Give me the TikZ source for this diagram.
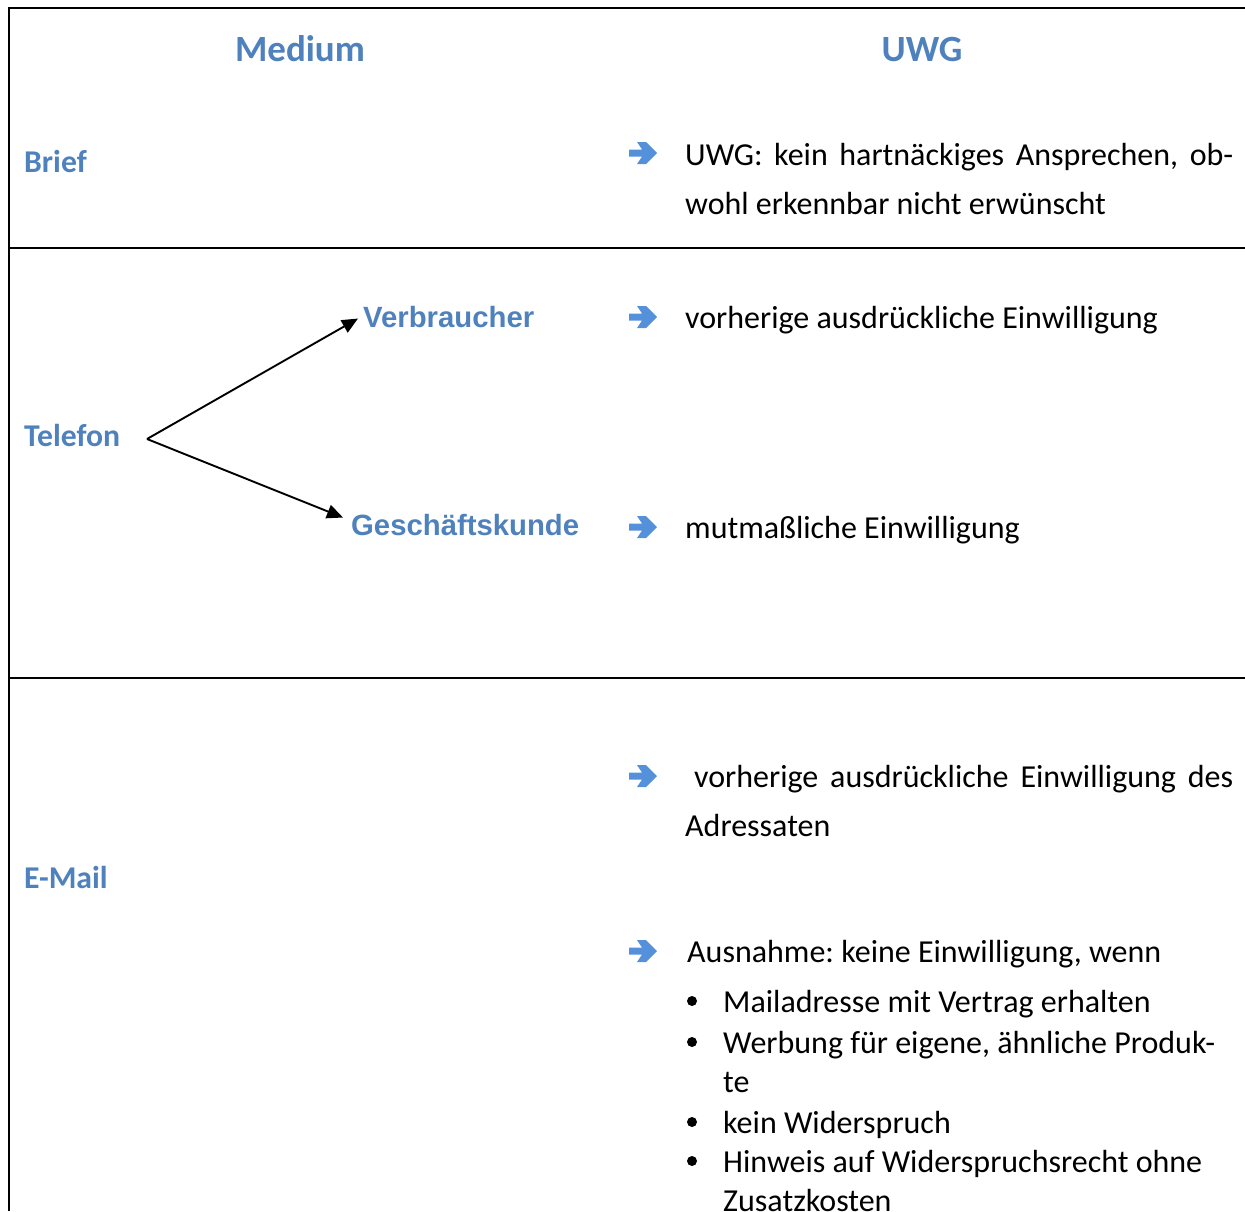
\documentclass[tikz,border=0pt]{standalone}
\usepackage{fontspec}
\setmainfont{Carlito}
\newfontfamily\arialfont{Liberation Sans}
\usepackage{tikz}
\usetikzlibrary{arrows.meta}
\definecolor{headblue}{HTML}{4F81BD}
\definecolor{arrowblue}{HTML}{5590DA}
\frenchspacing

\begin{document}
\begin{tikzpicture}[x=1pt,y=-1pt,
  head_node/.style={font=\fontsize{37}{44}\selectfont\bfseries,text=headblue,inner sep=0pt,anchor=base},
  medium_node/.style={font=\fontsize{31.7}{37}\selectfont\bfseries,text=headblue,inner sep=0pt,anchor=base west},
  kind_node/.style={font=\arialfont\fontsize{29.3}{35}\selectfont\bfseries,text=headblue,inner sep=0pt,anchor=base west},
  text_node/.style={font=\fontsize{32}{49}\selectfont,inner sep=0pt,anchor=base west,align=justify,text width=548pt},
  item_node/.style={font=\fontsize{32}{39}\selectfont,inner sep=0pt,anchor=base west,align=flush left,text width=510pt}]

    \useasboundingbox (0,0) rectangle (1245,1211);

    % table lines
    \draw[line width=2.7pt] (1245,8) -- (9,8) -- (9,1211);
    \draw[line width=2.7pt] (9,248) -- (1245,248);
    \draw[line width=2.7pt] (9,678) -- (1245,678);

    \node[head_node] (medium) at (300,61) {Medium};
    \node[head_node] (uwg) at (922,61) {UWG};

    \node[medium_node] (brief) at (24,172) {Brief};
    \node[medium_node] (telefon) at (24,446) {Telefon};
    \node[medium_node] (email) at (24,888) {E-Mail};

    \node[kind_node] (verbraucher) at (363,327) {Verbraucher};
    \node[kind_node] (geschaeft) at (351,535) {Geschäftskunde};
    \coordinate (fork) at (147,439);
    \begin{scope}[every path/.style={-{Triangle[length=16pt,width=14pt]},line width=1.9pt}]
    \draw (fork) -- ([xshift=-5pt,yshift=-2pt]verbraucher.west);
    \draw (fork) -- ([xshift=-8pt,yshift=7pt]geschaeft.west);
    \end{scope}

    % blue arrows in front of the UWG texts
    \foreach \y in {153,317,527,776,951}
        \fill[arrowblue] (629,\y) ++(0,-3.5) -- ++(13,0) -- ++(-5,-7.5) -- ++(9,0) -- ++(11,11)
            -- ++(-11,11) -- ++(-9,0) -- ++(5,-7.5) -- ++(-13,0) -- cycle;

    \node[text_node] (brieftext) at (685,165) {UWG: kein hartnäckiges Ansprechen, ob-\linebreak wohl erkennbar nicht erwünscht};
    \node[text_node] (verbrauchertext) at (685,328) {vorherige ausdrückliche Einwilligung};
    \node[text_node] (geschaefttext) at (685,538) {mutmaßliche Einwilligung};
    \node[text_node] (emailtext) at (685,787) {\hspace*{9pt}vorherige ausdrückliche Einwilligung des\linebreak Adressaten};
    \node[text_node] (ausnahme) at (687,962) {Ausnahme: keine Einwilligung, wenn};

    \foreach \y in {1001,1042,1122,1161}
        \fill (692,\y) circle (5);
    \node[item_node] (item1) at (723,1012) {Mailadresse mit Vertrag erhalten};
    \node[item_node] (item2) at (723,1053) {Werbung für eigene, ähnliche Produk-\\te};
    \node[item_node] (item3) at (723,1133) {kein Widerspruch};
    \node[item_node] (item4) at (723,1172) {Hinweis auf Widerspruchsrecht ohne\\Zusatzkosten};
\end{tikzpicture}
\end{document}
